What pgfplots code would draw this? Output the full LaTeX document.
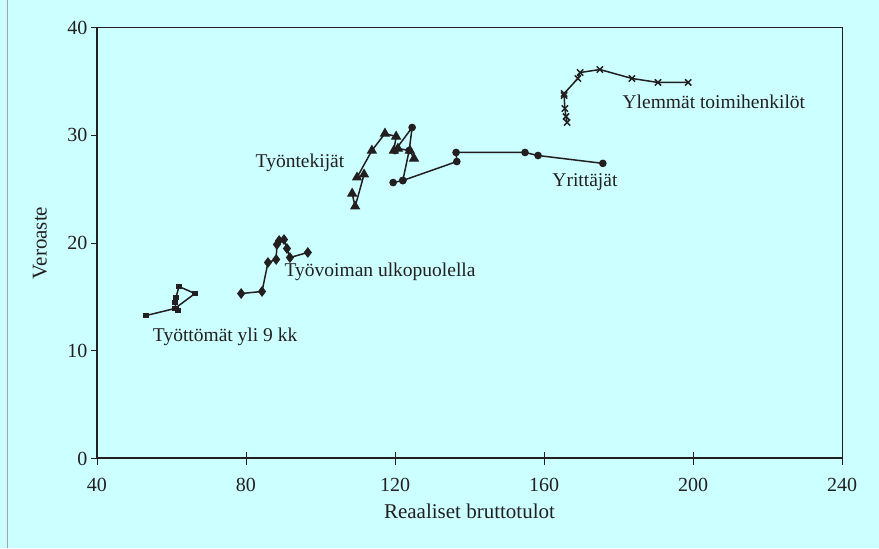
\documentclass[border=0pt]{standalone}
\usepackage{pgfplots}
\pgfplotsset{compat=1.18}
\usepackage{fontspec}
\setmainfont{Liberation Serif}
\definecolor{bgcyan}{HTML}{CCFFFF}
\definecolor{ink}{HTML}{231F20}

\begin{document}
\begin{tikzpicture}
% background of the whole figure
\fill[bgcyan] (-97pt,-90pt) rectangle (782pt,458pt);
\draw[gray!70,line width=1pt] (-89pt,-90pt) -- (-89pt,458pt);
\begin{axis}[
  scale only axis, width=745pt, height=431pt,
  xmin=40, xmax=240, ymin=0, ymax=40,
  xtick={40,80,...,240}, ytick={0,10,...,40},
  xtick pos=lower, ytick pos=left,
  tick align=outside, major tick length=6pt,
  extra x ticks={40,80,...,240},
  extra x tick labels={},
  extra x tick style={tick align=inside},
  tick style={ink, line width=0.9pt},
  axis line style={ink, line width=0.9pt},
  /pgf/number format/assume math mode=true,
  tick label style={font=\fontsize{20}{24}\selectfont, text=ink},
  x tick label style={yshift=-10pt},
  xlabel={Reaaliset bruttotulot},
  ylabel={Veroaste},
  label style={font=\fontsize{21}{25}\selectfont, text=ink},
  xlabel style={at={(axis description cs:0.5,0)}, yshift=-53pt, anchor=center},
  ylabel style={at={(axis description cs:0,0.5)}, anchor=center, yshift=57pt},
  every axis plot/.append style={ink, line width=1.5pt, mark options={solid, fill=ink, line width=1pt}},
  clip=false,
]
% thicker left and bottom axis lines
\draw[ink, line width=2pt] (rel axis cs:0,1) -- (rel axis cs:0,0) -- (rel axis cs:1,0);

% Tyottomat yli 9 kk
\addplot[mark=square*, mark size=2.4pt] coordinates {
  (53.2,13.27) (60.9,13.92) (66.3,15.31) (62.0,15.96) (61.2,14.94)
  (60.9,14.48) (61.2,13.92) (61.7,13.74)
};
% Tyovoiman ulkopuolella
\addplot[mark=diamond*, mark size=4.6pt] coordinates {
  (78.7,15.31) (84.3,15.50) (85.9,18.19) (88.1,18.47) (88.3,19.86)
  (88.9,20.23) (90.2,20.32) (91.0,19.49) (91.8,18.65) (96.6,19.12)
};
% Tyontekijat
\addplot[mark=triangle*, mark size=5pt] coordinates {
  (108.5,24.59) (109.3,23.39) (111.7,26.36) (109.8,26.08) (113.8,28.58)
  (117.3,30.16) (120.3,29.88) (119.7,28.58) (120.8,28.77) (124.0,28.58)
  (125.1,27.84)
};
% Yrittajat
\addplot[mark=*, mark size=3.3pt] coordinates {
  (120.0,28.58) (124.6,30.72) (123.8,28.58) (122.1,25.80)
};
\addplot[mark=*, mark size=3.3pt] coordinates {
  (119.5,25.61) (122.1,25.80) (136.6,27.56) (136.4,28.40) (154.9,28.40)
  (158.4,28.12) (175.8,27.39)
};
% Ylemmat toimihenkilot
\addplot[mark=x, mark size=4.4pt, mark options={line width=1.5pt}] coordinates {
  (166.2,31.18) (165.9,31.74) (165.6,32.48) (165.4,33.69) (165.4,33.87)
  (169.1,35.27) (169.7,35.82) (175.0,36.10) (183.6,35.27) (190.6,34.90)
  (198.7,34.90)
};

\begin{scope}[every node/.style={font=\fontsize{19.5}{23}\selectfont, text=ink}]
\node at (axis cs:205.6,33.13) {Ylemmät toimihenkilöt};
\node at (axis cs:171.0,25.61) {Yrittäjät};
\node at (axis cs:94.5,27.47) {Työntekijät};
\node at (axis cs:116.0,17.35) {Työvoiman ulkopuolella};
\node at (axis cs:74.4,11.32) {Työttömät yli 9 kk};
\end{scope}
\end{axis}
\end{tikzpicture}
\end{document}
